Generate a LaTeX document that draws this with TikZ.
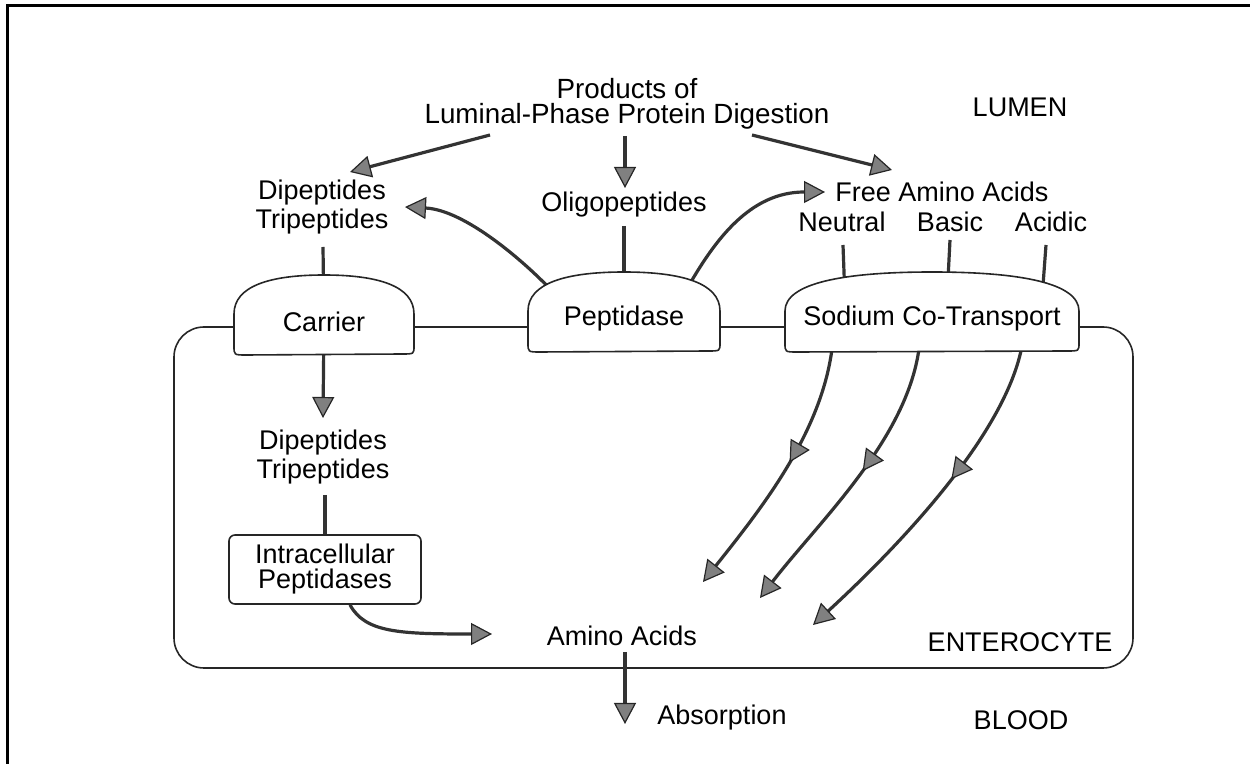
\documentclass[tikz,border=0pt]{standalone}
\usepackage{fontspec}
\setmainfont{Liberation Sans}
\usetikzlibrary{arrows.meta,calc,backgrounds,decorations.markings}

\tikzset{
  lbl/.style={font=\fontsize{13.5}{14.5}\selectfont, align=center, inner sep=0pt},
  wall/.style={line width=0.8pt, draw=black!85},
  link/.style={line width=1.6pt, draw=black!80},
  grayhead/.tip={Triangle[length=10.5pt,width=11pt,fill=black!50,color=black!85,line width=0.6pt]},
  flow/.style={link, -grayhead},
  midtip/.style={postaction={decorate, decoration={markings, mark=at position #1 with {\arrow{grayhead}}}}},
}

% membrane protein: name, position, half width, text
\newcommand{\Dome}[4]{%
  \coordinate (#1c) at (#2);
  \draw[wall, fill=white] ($(#1c)+(-#3,24)$) -- ($(#1c)+(-#3,-8)$)
    .. controls ($(#1c)+(-#3,-36)$) and ($(#1c)+(-0.6*#3,-47)$) .. ($(#1c)+(0,-47)$)
    .. controls ($(#1c)+(0.6*#3,-47)$) and ($(#1c)+(#3,-36)$) .. ($(#1c)+(#3,-8)$)
    -- ($(#1c)+(#3,24)$) .. controls ($(#1c)+(#3,32)$) .. ($(#1c)+(#3-12,32)$)
    -- ($(#1c)+(-#3+12,33)$) .. controls ($(#1c)+(-#3,33)$) .. ($(#1c)+(-#3,24)$) -- cycle;
  \node[lbl] (#1) at (#2) {#4};
}

\begin{document}
\begin{tikzpicture}[x=0.5pt, y=-0.5pt]
  \useasboundingbox (0,0) rectangle (1250,764);
  \draw[line width=1.5pt] (7,764) -- (7,6) -- (1250,6);

  % lumen
  \node[lbl, font=\fontsize{13.9}{12.5}\selectfont] (prod) at (627,104) {Products of\\Luminal-Phase Protein Digestion};
  \node[lbl] (lumen) at (1020,107) {LUMEN};
  \node[lbl] (dip1) at (322,207) {Dipeptides\\Tripeptides};
  \node[lbl] (oligo) at (624,205) {Oligopeptides};
  \node[lbl] (free) at (942,192) {Free Amino Acids};
  \node[lbl] (neutral) at (842,222) {Neutral};
  \node[lbl] (basic) at (950,222) {Basic};
  \node[lbl] (acidic) at (1051,222) {Acidic};

  % brush border
  \Dome{carrier}{324,322}{90}{Carrier}
  \Dome{pept}{624,319}{96}{Peptidase}
  \Dome{sodium}{932,319}{147}{Sodium Co-Transport}

  % enterocyte
  \node[lbl] (dip2) at (323,457) {Dipeptides\\Tripeptides};
  \node[lbl, wall, draw, rounded corners=3pt, minimum width=96pt, minimum height=34.5pt,
        font=\fontsize{13.5}{12.5}\selectfont] (intra) at (325,569.5) {Intracellular\\Peptidases};
  \node[lbl] (amino) at (622,636) {Amino Acids};
  \node[lbl] (entero) at (1020,642) {ENTEROCYTE};
  \node[lbl] (absorp) at (722,718) {Absorption};
  \node[lbl] (blood) at (1021,720) {BLOOD};
  \coordinate (aa1) at (703,582);
  \coordinate (aa2) at (760,598);
  \coordinate (aa3) at (813,625);

  \draw[flow] ($(prod)+(-137,31)$) -- ($(dip1)+(28,-35)$);
  \draw[flow] ($(prod)+(-2,32)$) -- ($(oligo)+(1,-17)$);
  \draw[flow] ($(prod)+(125,31)$) -- ($(free)+(-50,-22)$);
  \draw[link] ($(dip2)+(2,38)$) -- (intra.north);
  \draw[flow] ($(intra.south)+(25,0)$) .. controls +(15,28) and +(-92,0) .. ($(amino)+(-130,-2)$);
  \draw[flow] ($(amino)+(3,16)$) -- ($(absorp)+(-97,6)$);

  \begin{pgfonlayer}{background}
    \draw[wall, rounded corners=15pt] (174,327) rectangle (1133,668);
    \draw[link] ($(dip1)+(1,40)$) -- (carrierc);
    \draw[link] ($(oligo)+(0,21)$) -- (peptc);
    \draw[link] ($(neutral)+(1,23)$) -- ($(sodiumc)+(-87,-20)$);
    \draw[link] ($(basic)+(0,18)$) -- ($(sodiumc)+(15,-20)$);
    \draw[link] ($(acidic)+(-5,23)$) -- ($(sodiumc)+(110,-20)$);
    \draw[flow] (carrierc) -- ($(dip2)+(0,-39)$);
    \draw[flow] ($(peptc)+(-71,-27)$) .. controls +(-28,-30) and +(60,3) .. ($(dip1)+(83,0)$);
    \draw[flow] ($(peptc)+(64,-32)$) .. controls +(27,-47) and +(-75,0) .. ($(free)+(-117,0)$);
    \draw[flow, midtip=0.47] ($(sodiumc)+(-99,21)$) .. controls +(-8,90) and +(57,-72) .. (aa1);
    \draw[flow, midtip=0.47] ($(sodiumc)+(-12,21)$) .. controls +(-8,95) and +(60,-78) .. (aa2);
    \draw[flow, midtip=0.44] ($(sodiumc)+(91,21)$) .. controls +(-13,90) and +(87,-80) .. (aa3);
  \end{pgfonlayer}
\end{tikzpicture}
\end{document}
